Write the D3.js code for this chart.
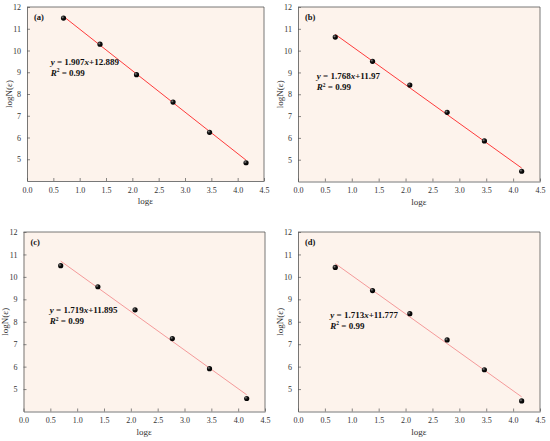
<!DOCTYPE html>
<html>
<head>
<meta charset="utf-8">
<script src="https://cdn.jsdelivr.net/npm/d3@7"></script>
<style>
  html, body { margin: 0; padding: 0; background: #fff; }
  svg { display: block; font-family: "Liberation Serif", "Times New Roman", serif; }
</style>
</head>
<body>
<svg id="chart"></svg>
<script>
// log(epsilon) values, same for every panel
const logEps = [0.693, 1.386, 2.079, 2.773, 3.466, 4.159];

// logN(epsilon)
const seriesA = [11.49, 10.29, 8.89, 7.63, 6.24, 4.84];
const seriesB = [10.62, 9.51, 8.42, 7.17, 5.86, 4.47];
const seriesC = [10.50, 9.56, 8.53, 7.25, 5.91, 4.58];
const seriesD = [10.42, 9.39, 8.36, 7.19, 5.86, 4.47];

// fit lines as printed (slope printed without sign, drawn negative)
const slopes = [1.907, 1.768, 1.719, 1.713];
const intercepts = [12.889, 11.97, 11.895, 11.777];
const panelLabels = ["(a)", "(b)", "(c)", "(d)"];
const rSquared = ["0.99", "0.99", "0.99", "0.99"];

const xTicks = [0, 0.5, 1, 1.5, 2, 2.5, 3, 3.5, 4, 4.5];
const yTicks = [5, 6, 7, 8, 9, 10, 11, 12];

const W = 550, H = 441;
const svg = d3.select("#chart").attr("width", W).attr("height", H);

// gradient for the little shaded ball markers
const defs = svg.append("defs");
const grad = defs.append("radialGradient")
    .attr("id", "ball")
    .attr("cx", "35%").attr("cy", "35%").attr("r", "65%");
grad.append("stop").attr("offset", "0%").attr("stop-color", "#8a8a8a");
grad.append("stop").attr("offset", "45%").attr("stop-color", "#111");
grad.append("stop").attr("offset", "100%").attr("stop-color", "#000");

const panels = [
    { data: seriesA, box: [27, 264, 7, 181],     line: "#ff3b3b", eq: [0.45, 9.3] },
    { data: seriesB, box: [298, 540, 7, 181.5],  line: "#ff3b3b", eq: [0.35, 8.65] },
    { data: seriesC, box: [23.5, 265, 232, 411.5], line: "#f59a9a", eq: [0.49, 8.34] },
    { data: seriesD, box: [298, 540, 232, 411.5], line: "#f59a9a", eq: [0.6, 8.13] }
];

panels.forEach((p, i) => drawPanel(p, i));

function drawPanel(p, i) {
    const [x0, x1, y0, y1] = p.box;
    const x = d3.scaleLinear([0, 4.5], [x0, x1]);
    const y = d3.scaleLinear([4, 12], [y1, y0]);
    const g = svg.append("g");

    g.append("rect")
        .attr("x", x0).attr("y", y0)
        .attr("width", x1 - x0).attr("height", y1 - y0)
        .attr("fill", "#fdf3ec");

    // axes, ticks pointing inward
    const xAxis = g.append("g")
        .attr("transform", `translate(0,${y1})`)
        .call(d3.axisBottom(x).tickValues(xTicks).tickFormat(d3.format(".1f"))
            .tickSizeInner(-3).tickSizeOuter(0).tickPadding(6));
    const yAxis = g.append("g")
        .attr("transform", `translate(${x0},0)`)
        .call(d3.axisLeft(y).tickValues(yTicks).tickFormat(d3.format("d"))
            .tickSizeInner(-3).tickSizeOuter(0).tickPadding(6));
    [xAxis, yAxis].forEach(a => {
        a.select(".domain").attr("stroke", "#555").attr("stroke-width", 0.8);
        a.selectAll(".tick line").attr("stroke", "#555").attr("stroke-width", 0.7);
        a.selectAll("text").attr("font-size", 8).attr("fill", "#333")
            .attr("font-family", "Liberation Serif");
    });

    // frame on top and right
    g.append("path")
        .attr("d", `M${x0},${y0}H${x1}V${y1}`)
        .attr("fill", "none").attr("stroke", "#555").attr("stroke-width", 0.8);

    // axis titles
    g.append("text")
        .attr("x", (x0 + x1) / 2).attr("y", y1 + 23)
        .attr("text-anchor", "middle").attr("font-size", 9).attr("fill", "#333")
        .text("logε");
    g.append("text")
        .attr("transform", `translate(${x0 - 15.5},${(y0 + y1) / 2}) rotate(-90)`)
        .attr("text-anchor", "middle").attr("font-size", 9).attr("fill", "#333")
        .text("logN(ε)");

    // fit line across the data range
    const fit = v => intercepts[i] - slopes[i] * v;
    const ends = d3.extent(logEps);
    g.append("line")
        .attr("x1", x(ends[0])).attr("y1", y(fit(ends[0])))
        .attr("x2", x(ends[1])).attr("y2", y(fit(ends[1])))
        .attr("stroke", p.line).attr("stroke-width", 1);

    g.selectAll("circle.pt")
        .data(logEps.map((v, k) => ({ x: v, y: p.data[k] })))
        .join("circle")
        .attr("class", "pt")
        .attr("cx", d => x(d.x)).attr("cy", d => y(d.y))
        .attr("r", 2.6)
        .attr("fill", "url(#ball)");

    // panel label
    g.append("text")
        .attr("x", x0 + 7).attr("y", y0 + 13)
        .attr("font-size", 8.5).attr("font-weight", "bold").attr("fill", "#111")
        .text(panelLabels[i]);

    // equation
    const eq = g.append("text")
        .attr("x", x(p.eq[0])).attr("y", y(p.eq[1]) - 1)
        .attr("font-size", 9).attr("font-weight", "bold").attr("fill", "#111");
    eq.append("tspan").attr("font-style", "italic").text("y");
    eq.append("tspan").text(` = ${slopes[i]}`);
    eq.append("tspan").attr("font-style", "italic").text("x");
    eq.append("tspan").text(`+${intercepts[i]}`);

    const r2 = g.append("text")
        .attr("x", x(p.eq[0])).attr("y", y(p.eq[1]) + 10)
        .attr("font-size", 9).attr("font-weight", "bold").attr("fill", "#111");
    r2.append("tspan").attr("font-style", "italic").text("R");
    r2.append("tspan").attr("font-size", 5.5).attr("dy", -3.5).text("2");
    r2.append("tspan").attr("dy", 3.5).text(` = ${rSquared[i]}`);
}
</script>
</body>
</html>
